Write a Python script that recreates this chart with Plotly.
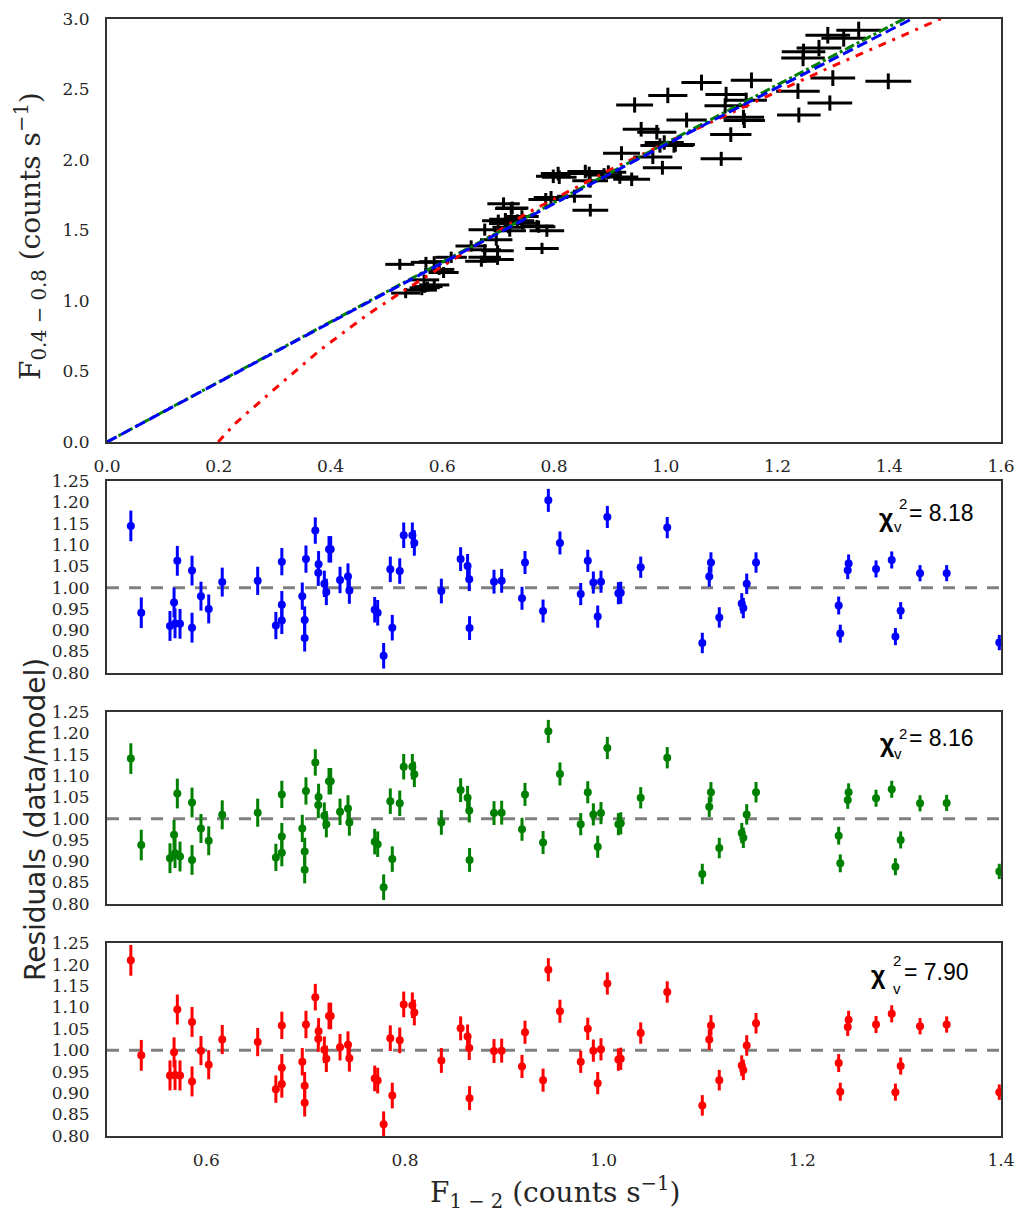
import plotly.graph_objects as go

# ---------------- data ----------------
flux_hard = [0.524, 0.5345, 0.5634, 0.5675, 0.5685, 0.5708, 0.5735, 0.5856, 0.5856, 0.5946,
             0.6024, 0.616, 0.6517, 0.670, 0.676, 0.676, 0.676, 0.6966, 0.699, 0.699,
             0.7003, 0.7097, 0.713, 0.7127, 0.7188, 0.7208, 0.7235, 0.7252, 0.7346, 0.7426,
             0.744, 0.7695, 0.7725, 0.7785, 0.7852, 0.7872, 0.7947, 0.7987, 0.8074, 0.8094,
             0.8366, 0.856, 0.863, 0.8647, 0.865, 0.8896, 0.8973, 0.9178, 0.9208, 0.939,
             0.9443, 0.956, 0.9769, 0.984, 0.9896, 0.994, 0.9973, 1.0037, 1.0148, 1.0172,
             1.0373, 1.064, 1.0993, 1.1063, 1.108, 1.1164, 1.139, 1.1406, 1.144, 1.1534,
             1.2366, 1.2382, 1.2457, 1.2466, 1.2742, 1.29, 1.2937, 1.299, 1.3185, 1.3453,
             1.3983]

flux_soft = [1.260, 1.056, 1.077, 1.150, 1.094, 1.274, 1.102, 1.279, 1.114, 1.224,
             1.202, 1.310, 1.390, 1.282, 1.506, 1.363, 1.310, 1.434, 1.356, 1.295,
             1.569, 1.690, 1.580, 1.549, 1.523, 1.499, 1.656, 1.660, 1.570, 1.600,
             1.551, 1.532, 1.527, 1.373, 1.720, 1.498, 1.734, 1.884, 1.904, 1.878,
             1.743, 1.918, 1.905, 1.852, 1.644, 1.894, 1.914, 1.879, 2.048, 1.863,
             2.390, 2.218, 2.021, 2.197, 2.103, 1.945, 2.124, 2.458, 2.103, 2.110,
             2.283, 2.549, 2.008, 2.384, 2.464, 2.180, 2.303, 2.280, 2.424, 2.565,
             2.488, 2.319, 2.723, 2.767, 2.794, 2.885, 2.404, 2.581, 2.863, 2.921,
             2.558]

flux_hard_err = [0.026, 0.026] + [0.027] * 9 + [0.028] * 2 + [0.029] * 15 + [0.030] * 6 + \
                [0.031] * 7 + [0.032] * 6 + [0.033] * 5 + [0.035] * 8 + [0.036] * 2 + \
                [0.037] * 8 + [0.039] * 4 + [0.040] * 6 + [0.041]

flux_soft_err = [0.039, 0.036, 0.036, 0.038, 0.036, 0.039, 0.036, 0.039, 0.036, 0.039,
                 0.039, 0.040, 0.040, 0.039, 0.043, 0.040, 0.040, 0.042, 0.040, 0.039,
                 0.044, 0.045, 0.044, 0.043, 0.043, 0.043, 0.045, 0.045, 0.044, 0.044,
                 0.043, 0.043, 0.043, 0.040, 0.046, 0.043, 0.046, 0.048, 0.048, 0.048,
                 0.046, 0.048, 0.048, 0.048, 0.045, 0.048, 0.048, 0.048, 0.050, 0.048,
                 0.054, 0.052, 0.050, 0.052, 0.051, 0.049, 0.051, 0.055, 0.051, 0.051,
                 0.053, 0.056, 0.050, 0.054, 0.055, 0.052, 0.053, 0.053, 0.054, 0.056,
                 0.055, 0.053, 0.058, 0.058, 0.058, 0.059, 0.054, 0.056, 0.059, 0.060,
                 0.056]

res_blue = [1.145, 0.941, 0.910, 0.965, 0.916, 1.063, 0.915, 1.040, 0.906, 0.980,
            0.950, 1.013, 1.016, 0.911, 1.061, 0.960, 0.923, 0.980, 0.924, 0.882,
            1.067, 1.134, 1.055, 1.035, 1.009, 0.990, 1.090, 1.090, 1.018, 1.026,
            0.993, 0.948, 0.941, 0.840, 1.043, 0.906, 1.039, 1.123, 1.123, 1.105,
            0.992, 1.067, 1.051, 1.020, 0.905, 1.014, 1.016, 0.975, 1.059, 0.945,
            1.205, 1.105, 0.985, 1.063, 1.012, 0.932, 1.014, 1.166, 0.987, 0.988,
            1.048, 1.141, 0.870, 1.026, 1.059, 0.930, 0.963, 0.952, 1.009, 1.059,
            0.958, 0.892, 1.041, 1.057, 1.044, 1.065, 0.885, 0.946, 1.034, 1.034, 0.871]

res_green = [1.141, 0.938, 0.907, 0.962, 0.919, 1.059, 0.911, 1.038, 0.903, 0.977,
             0.948, 1.009, 1.014, 0.909, 1.057, 0.958, 0.920, 0.977, 0.923, 0.880,
             1.065, 1.132, 1.051, 1.032, 1.007, 0.987, 1.088, 1.088, 1.016, 1.024,
             0.991, 0.946, 0.940, 0.839, 1.041, 0.905, 1.036, 1.122, 1.122, 1.104,
             0.991, 1.067, 1.049, 1.019, 0.903, 1.013, 1.014, 0.975, 1.057, 0.944,
             1.205, 1.105, 0.987, 1.062, 1.010, 0.934, 1.013, 1.166, 0.987, 0.989,
             1.049, 1.143, 0.870, 1.028, 1.062, 0.931, 0.966, 0.955, 1.010, 1.062,
             0.960, 0.895, 1.044, 1.062, 1.048, 1.069, 0.887, 0.950, 1.036, 1.037, 0.876]

res_red = [1.210, 0.988, 0.941, 0.995, 0.942, 1.095, 0.941, 1.066, 0.927, 0.999,
           0.966, 1.025, 1.019, 0.909, 1.058, 0.959, 0.921, 0.973, 0.917, 0.877,
           1.060, 1.124, 1.044, 1.027, 1.001, 0.980, 1.080, 1.080, 1.007, 1.013,
           0.981, 0.934, 0.929, 0.827, 1.028, 0.894, 1.023, 1.107, 1.105, 1.088,
           0.976, 1.051, 1.032, 1.005, 0.888, 0.998, 0.999, 0.962, 1.042, 0.930,
           1.188, 1.091, 0.973, 1.050, 0.999, 0.923, 1.002, 1.156, 0.978, 0.980,
           1.040, 1.136, 0.871, 1.025, 1.058, 0.930, 0.964, 0.954, 1.011, 1.063,
           0.970, 0.903, 1.054, 1.071, 1.060, 1.085, 0.902, 0.963, 1.056, 1.060, 0.902]

res_err = [0.036, 0.036] + [0.035] * 7 + [0.034] * 3 + [0.033] + [0.032] * 8 + \
          [0.031] * 10 + [0.030] * 9 + [0.029] + [0.028] * 6 + [0.027] * 5 + \
          [0.026] * 8 + [0.025] * 2 + [0.024] * 8 + [0.021] * 4 + [0.020] * 4 + \
          [0.019] * 2 + [0.018]

# model curves (top panel)
model_blue_x = [0.0, 0.5, 1.0, 1.46]
model_blue_y = [0.0, 1.06, 2.11, 3.04]
model_green_x = [0.0, 0.5, 1.0, 1.45]
model_green_y = [0.0, 1.065, 2.12, 3.05]
model_red_x = [0.199, 0.229, 0.307, 0.384, 0.465, 0.53, 0.75, 0.9, 1.0, 1.29, 1.52]
model_red_y = [0.0, 0.13, 0.40, 0.66, 0.90, 1.07, 1.62, 1.93, 2.12, 2.65, 3.05]

chi_labels = ["8.18", "8.16", "7.90"]

top_xticks = [0.0, 0.2, 0.4, 0.6, 0.8, 1.0, 1.2, 1.4, 1.6]
top_yticks = [0.0, 0.5, 1.0, 1.5, 2.0, 2.5, 3.0]
res_yticks = [0.80, 0.85, 0.90, 0.95, 1.00, 1.05, 1.10, 1.15, 1.20, 1.25]
res_xticks = [0.6, 0.8, 1.0, 1.2, 1.4]

# ---------------- figure ----------------
W, H = 1019, 1213
TXT = "#262626"
FRAME = "#333333"
SERIF = "DejaVu Serif"


def px(x):
    return x / W


def py(y):
    return 1 - y / H


xdom = [px(107), px(1001)]
top_dom = [py(442), py(19)]
p1_dom = [py(673), py(481)]
p2_dom = [py(904), py(712)]
p3_dom = [py(1136), py(943)]

fig = go.Figure()

# top panel data
fig.add_trace(go.Scatter(
    x=flux_hard, y=flux_soft, mode="markers",
    marker=dict(size=2, color="black"),
    error_x=dict(type="data", array=flux_hard_err, color="black", thickness=3, width=0),
    error_y=dict(type="data", array=flux_soft_err, color="black", thickness=3, width=0),
    xaxis="x", yaxis="y", showlegend=False))

fig.add_trace(go.Scatter(x=model_red_x, y=model_red_y, mode="lines",
                         line=dict(color="red", width=3, dash="8px,7px,3px,7px"),
                         xaxis="x", yaxis="y", showlegend=False))
fig.add_trace(go.Scatter(x=model_green_x, y=model_green_y, mode="lines",
                         line=dict(color="green", width=3, dash="10px,3px,3px,3px"),
                         xaxis="x", yaxis="y", showlegend=False))
fig.add_trace(go.Scatter(x=model_blue_x, y=model_blue_y, mode="lines",
                         line=dict(color="blue", width=3, dash="11px,5px"),
                         xaxis="x", yaxis="y", showlegend=False))

# residual panels
for res, col, i in [(res_blue, "blue", 2), (res_green, "green", 3), (res_red, "red", 4)]:
    fig.add_trace(go.Scatter(
        x=flux_hard, y=res, mode="markers",
        marker=dict(size=8, color=col),
        error_y=dict(type="data", array=res_err, color=col, thickness=3, width=0),
        xaxis=f"x{i}", yaxis=f"y{i}", showlegend=False))
    fig.add_shape(type="line", xref=f"x{i} domain", yref=f"y{i}", x0=0, x1=1, y0=1.0, y1=1.0,
                  line=dict(color="gray", width=3, dash="12px,10px"), layer="below")

axis_common = dict(showgrid=False, zeroline=False, showline=True, mirror=True,
                   linecolor=FRAME, linewidth=2, ticks="", automargin=False,
                   tickfont=dict(family=SERIF, size=17, color=TXT))

layout = dict(
    width=W, height=H, margin=dict(l=0, r=0, t=0, b=0),
    paper_bgcolor="white", plot_bgcolor="white", showlegend=False,
    xaxis=dict(domain=xdom, anchor="y", range=[0, 1.6], tickvals=top_xticks,
               ticktext=[f"{v:.1f}" for v in top_xticks], ticklabelstandoff=8, **axis_common),
    yaxis=dict(domain=top_dom, anchor="x", range=[0, 3.0], tickvals=top_yticks,
               ticktext=[f"{v:.1f}" for v in top_yticks], ticklabelstandoff=12, **axis_common),
)
for i, dom in [(2, p1_dom), (3, p2_dom), (4, p3_dom)]:
    show_x = (i == 4)
    layout[f"xaxis{i}"] = dict(domain=xdom, anchor=f"y{i}", range=[0.5, 1.4],
                               tickvals=res_xticks, ticktext=[f"{v:.1f}" for v in res_xticks],
                               showticklabels=show_x, ticklabelstandoff=8, **axis_common)
    layout[f"yaxis{i}"] = dict(domain=dom, anchor=f"x{i}", range=[0.7995, 1.2505],
                               tickvals=res_yticks, ticktext=[f"{v:.2f}" for v in res_yticks],
                               ticklabelstandoff=12, **axis_common)
fig.update_layout(**layout)

ann = []
ann.append(dict(x=px(31), y=py(236), xref="paper", yref="paper", textangle=-90,
                text="F<sub>0.4 − 0.8</sub> (counts s<sup>−1</sup>)", showarrow=False,
                font=dict(family=SERIF, size=28, color=TXT), xanchor="center", yanchor="middle"))
ann.append(dict(x=px(35), y=py(820), xref="paper", yref="paper", textangle=-90,
                text="Residuals (data/model)", showarrow=False,
                font=dict(family="DejaVu Sans", size=28, color=TXT), xanchor="center", yanchor="middle"))
ann.append(dict(x=px(555), y=py(1192), xref="paper", yref="paper",
                text="F<sub>1 − 2</sub> (counts s<sup>−1</sup>)", showarrow=False,
                font=dict(family=SERIF, size=28, color=TXT), xanchor="center", yanchor="middle"))

chi_pos = [  # chi centre, sup, sub, text-left (pixels)
    ((886, 518), (903, 503), (898, 527), (907, 513)),
    ((887, 743), (903, 733), (898, 753), (907, 738)),
    ((878, 975), (897, 960), (897, 988), (902, 972)),
]
SANS = "Liberation Sans"
for lab, (c, s, b, t) in zip(chi_labels, chi_pos):
    ann.append(dict(x=px(c[0]), y=py(c[1]), xref="paper", yref="paper", text="<b>χ</b>",
                    showarrow=False, font=dict(family=SANS, size=25, color="black"),
                    xanchor="center", yanchor="middle"))
    ann.append(dict(x=px(s[0]), y=py(s[1]), xref="paper", yref="paper", text="2",
                    showarrow=False, font=dict(family=SANS, size=15, color="black"),
                    xanchor="center", yanchor="middle"))
    ann.append(dict(x=px(b[0]), y=py(b[1]), xref="paper", yref="paper", text="v",
                    showarrow=False, font=dict(family=SANS, size=15, color="black"),
                    xanchor="center", yanchor="middle"))
    ann.append(dict(x=px(t[0]), y=py(t[1]), xref="paper", yref="paper", text="= " + lab,
                    showarrow=False, font=dict(family=SANS, size=23, color="black"),
                    xanchor="left", yanchor="middle"))
fig.update_layout(annotations=ann)

fig.write_html("out.html", config={"displayModeBar": False},
               post_script="document.body.style.margin='0';document.body.style.overflow='hidden';")
